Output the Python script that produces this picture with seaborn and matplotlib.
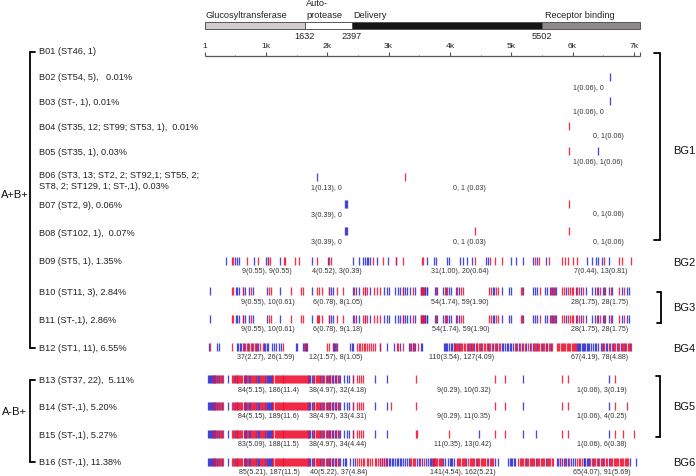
import matplotlib
matplotlib.use("Agg")
import matplotlib.pyplot as plt
import pandas as pd
import seaborn as sns

# Domains of the toxin B protein (residues)
domain_names = ["Glucosyltransferase", "Autoprotease", "Delivery", "Receptor binding"]
domain_start = [1, 1632, 2397, 5502]
domain_end = [1632, 2397, 5502, 7102]
domain_colors = ["#d2cccc", "#ffffff", "#161616", "#8e8a8a"]

ruler_major = [1, 1000, 2000, 3000, 4000, 5000, 6000, 7000]
ruler_major_labels = ["1", "1k", "2k", "3k", "4k", "5k", "6k", "7k"]
ruler_minor = [500, 1500, 2500, 3500, 4500, 5500, 6500, 7102]

row_names = ["B02", "B03", "B04", "B05", "B06", "B07", "B08", "B09",
             "B10", "B11", "B12", "B13", "B14", "B15", "B16"]

# Mutation positions, blue / red per row
b02_blue = [6612]
b03_blue = [6612]
b04_red = [5943]
b05_blue = [6411]
b05_red = [5943]
b06_blue = [1837]
b06_red = [3273]
b07_blue = [2288, 2304, 2320]
b07_red = [5943]
b08_blue = [2288, 2304, 2320]
b08_red = [4409, 5943]

b09_blue = [347, 494, 521, 554, 804, 1006, 1033, 1234, 1745, 2017, 2415, 2523, 2578, 2621, 2643,
            2670, 2698, 2806, 2986, 3116, 3621, 3735, 3773, 3947, 3980, 4165, 4219, 4284, 4355,
            4584, 4627, 4992, 5073, 5188, 5362, 5416, 5568, 6243, 6314, 6384, 6422, 6477, 6602]
b09_red = [451, 467, 685, 870, 1040, 1065, 1294, 1316, 1479, 1533, 1827, 2034, 2056, 2752, 2904,
           3120, 3241, 3552, 3556, 4410, 4654, 4736, 4845, 5389, 5449, 5623, 5835, 5878, 5933,
           6004, 6069, 6515, 6765, 6809, 6961]

b10_blue = [86, 505, 532, 565, 630, 657, 723, 793, 1011, 1234, 1745, 2028, 2061, 2088, 2415, 2469,
            2512, 2616, 2698, 2926, 2980, 3002, 3111, 3149, 3187, 3231, 3269, 3296, 3350, 3432,
            3530, 3600, 3633, 3534, 3560, 3590, 3621, 3751, 3784, 3893, 3936, 3980, 4012, 4100,
            4154, 4698, 4720, 4850, 4959, 5003, 5193, 5362, 5385, 5416, 5552, 5579, 5634, 5660,
            5699, 5732, 5895, 6052, 6145, 6216, 6314, 6368, 6422, 6493, 6537, 6602, 6651, 6803,
            6885, 6923]
b10_red = [451, 467, 630, 750, 1044, 1076, 1414, 1577, 1604, 1838, 1871, 1920, 2028, 2153, 2262,
           2436, 2589, 2616, 2643, 2768, 2806, 2866, 3231, 3394, 3530, 3568, 3545, 3575, 3768,
           3915, 3958, 4121, 4176, 4208, 4638, 4665, 4752, 4785, 5155, 5182, 5470, 5650, 5680,
           5715, 5835, 5868, 5933, 5960, 5987, 6014, 6080, 6112, 6178, 6395, 6450, 6515, 6624,
           6765, 6841]
b11_blue = b10_blue
b11_red = b10_red + [1850]

b12_blue = [70, 195, 233, 525, 545, 570, 595, 645, 705, 770, 840, 875, 960, 985, 1010, 1040, 1095,
            1130, 1165, 1205, 1245, 1484, 1500, 1610, 1630, 1650, 1670, 2088, 2110, 2130, 2165,
            2370, 2400, 2425, 2860, 2970, 3080, 3180, 3340, 3370, 3400, 3430, 3540, 3534, 3900,
            3918, 3935, 3960, 3985, 4010, 4040, 4080, 4150, 4290, 4340, 4400, 4450, 4510, 4620,
            4700, 4770, 4850, 4870, 4895, 4925, 4950, 4975, 5000, 5030, 5080, 5130, 5180, 5240,
            5300, 5350, 5420, 5500, 5590, 5650, 6075, 6090, 6110, 6130, 6150, 6170, 6190, 6210,
            6230, 6255, 6275, 6300, 6330, 6360, 6390, 6420, 6460, 6500, 6540, 6570, 6610, 6660,
            6720, 6790, 6860, 6940]
b12_red = [85, 440, 630, 660, 690, 720, 750, 785, 820, 855, 905, 945, 1280, 1620, 1660, 2000, 2034,
           2100, 2145, 2480, 2510, 2540, 2565, 2600, 2620, 2650, 2680, 2710, 2745, 2770, 2860, 3130,
           3160, 3240, 3355, 3390, 3420, 3485, 4060, 4075, 4095, 4110, 4130, 4165, 4185, 4205, 4225,
           4245, 4275, 4305, 4325, 4360, 4380, 4420, 4435, 4470, 4490, 4530, 4550, 4570, 4600, 4640,
           4660, 4680, 4730, 4750, 4800, 4820, 5060, 5100, 5150, 5200, 5220, 5270, 5320, 5370, 5390,
           5405, 5440, 5460, 5480, 5520, 5540, 5560, 5575, 5610, 5630, 5660, 5745, 5765, 5785, 5805,
           5825, 5845, 5865, 5885, 5905, 5925, 5945, 5965, 5985, 6005, 6025, 6045, 6065, 6480, 6520,
           6590, 6640, 6680, 6700, 6740, 6760, 6810, 6830, 6845, 6880, 6900, 6920, 6955]

# Left blocks shared by the A-B+ rows
bg5_blue = [55, 68, 85, 98, 115, 128, 150, 172, 205, 240, 280, 385, 495, 535, 640, 650, 675, 725,
            745, 835, 870, 880, 985, 1020, 1035, 1050, 1065, 1080, 1095, 1680, 1700, 1725, 1745, 1790,
            1880, 1935, 1995, 2025, 2050, 2075, 2100, 2125, 2150, 2180, 2205]
bg5_red = [140, 160, 190, 225, 255, 270, 300, 445, 462, 478, 510, 528, 545, 560, 578, 595, 612, 660,
           690, 705, 760, 775, 790, 805, 820, 850, 895, 912, 930, 950, 965, 1000, 1105, 1120, 1140,
           1155, 1172, 1190, 1205, 1222, 1240, 1258, 1272, 1285, 1300, 1318, 1333, 1350, 1365, 1383,
           1398, 1415, 1430, 1447, 1463, 1480, 1495, 1513, 1528, 1545, 1560, 1578, 1595, 1610, 1627,
           1643, 1660, 1670, 1690, 1760, 1775, 1810, 1830, 1850, 1865, 1900, 1920, 1950, 1975, 2010,
           2040, 2090, 2140, 2195]

b13_blue = bg5_blue + [2278, 2316, 2360, 2415, 2780, 2969, 5193, 6602]
b13_red = bg5_red + [2415, 2480, 2512, 2556, 2589, 3443, 4736, 4899, 5829, 5933, 6689]
b14_blue = bg5_blue + [2278, 2316, 2360, 2415, 2780, 2969, 5193, 6602]
b14_red = bg5_red + [2415, 2480, 2512, 2556, 2589, 3035, 3443, 4736, 4899, 5829, 5933, 6689, 6890]
b15_blue = bg5_blue + [2278, 2316, 2360, 2415, 2780, 2969, 4475, 5193, 5411, 6602]
b15_red = bg5_red + [2415, 2480, 2520, 2556, 2589, 3443, 3460, 3991, 4736, 4899, 5829, 5933, 6689,
                     6830, 6999]

b16_blue = bg5_blue + [2262, 2290, 2306, 2371, 2415, 2450, 2860, 2890, 2920, 2950, 2975, 3000, 3020,
                       3050, 3075, 3100, 3130, 3155, 3185, 3210, 3235, 3265, 3300, 3330, 3460, 3490,
                       3550, 3610, 3640, 3670, 3690, 3720, 3745, 3895, 3925, 3975, 3995, 4015, 4040,
                       4065, 4255, 4440, 4620, 4740, 4790, 4955, 4975, 4995, 5020, 5045, 5062, 5240,
                       5400, 5560, 5745, 5770, 5800, 5830, 5860, 5900, 5930, 5970, 6010, 6040, 6180,
                       6195, 6210, 6230, 6250, 6270, 6330, 6420, 6500, 6590, 6939, 7037]
b16_red = bg5_red + [2480, 2510, 2545, 2575, 2605, 2640, 2670, 2700, 2735, 2770, 2800, 2830, 2860, 2890,
                     2920, 2950, 3350, 3370, 3390, 3415, 3435, 3520, 3580, 3705, 3735, 3757, 3775,
                     3795, 3815, 3835, 3850, 3866, 4110, 4130, 4150, 4170, 4190, 4210, 4230, 4246,
                     4301, 4320, 4340, 4360, 4380, 4400, 4420, 4460, 4480, 4500, 4520, 4540, 4560,
                     4580, 4600, 4654, 4672, 4690, 4709, 5117, 5140, 5160, 5180, 5200, 5220, 5260,
                     5280, 5300, 5320, 5340, 5360, 5380, 5420, 5440, 5460, 5480, 5500, 5520, 5540,
                     5580, 5600, 5620, 5640, 5660, 5688, 5790, 5880, 5950, 6075, 6100, 6125, 6150,
                     6290, 6310, 6350, 6375, 6400, 6440, 6460, 6480, 6520, 6550, 6570, 6610, 6630,
                     6650, 6670, 6690, 6710, 6730, 6750, 6770, 6790, 6810, 6830, 6850, 6870, 6890,
                     6910]

row_blue = [b02_blue, b03_blue, [], b05_blue, b06_blue, b07_blue, b08_blue, b09_blue, b10_blue,
            b11_blue, b12_blue, b13_blue, b14_blue, b15_blue, b16_blue]
row_red = [[], [], b04_red, b05_red, b06_red, b07_red, b08_red, b09_red, b10_red, b11_red,
           b12_red, b13_red, b14_red, b15_red, b16_red]

left_labels = ["B01 (ST46, 1)", "B02 (ST54, 5),   0.01%", "B03 (ST-, 1), 0.01%",
               "B04 (ST35, 12; ST99; ST53, 1),  0.01%", "B05 (ST35, 1), 0.03%",
               "B06 (ST3, 13; ST2, 2; ST92,1; ST55, 2;\nST8, 2; ST129, 1; ST-,1), 0.03%",
               "B07 (ST2, 9), 0.06%", "B08 (ST102, 1),  0.07%", "B09 (ST5, 1), 1.35%",
               "B10 (ST11, 3), 2.84%", "B11 (ST-,1), 2.86%", "B12 (ST1, 11), 6.55%",
               "B13 (ST37, 22),  5.11%", "B14 (ST-,1), 5.20%", "B15 (ST-,1), 5.27%",
               "B16 (ST-,1), 11.38%"]
left_y = [52, 78, 102.3, 127, 152.7, 181, 205.7, 233.3, 262, 292.7, 320.7, 348.7, 380.7, 407.3,
          435.3, 463]
row_y = [77.7, 102, 126.7, 152, 178.3, 205, 232, 261.7, 292, 320, 348.3, 380.3, 406.7, 435, 463]

# Small counts under the rows: (text, centre x, y)
count_labels = [
    ("1(0.06), 0", 588.7, 88), ("1(0.06), 0", 588.7, 112), ("0, 1(0.06)", 608, 136.7),
    ("1(0.06), 1(0.06)", 598.3, 162.5), ("1(0.13), 0", 326.7, 188.3), ("0, 1 (0.03)", 469.3, 188.3),
    ("3(0.39), 0", 326.7, 215.3), ("0, 1(0.06)", 608.7, 215), ("3(0.39), 0", 326.7, 242.7),
    ("0, 1 (0.03)", 469.3, 242.3), ("0, 1(0.06)", 608.7, 242.3),
    ("9(0.55), 9(0.55)", 266.7, 271.7), ("4(0.52), 3(0.39)", 337.3, 271.7),
    ("31(1.00), 20(0.64)", 460, 271.7), ("7(0.44), 13(0.81)", 601, 271.7),
    ("9(0.55), 10(0.61)", 268.3, 302.3), ("6(0.78), 8(1.05)", 337.3, 302.3),
    ("54(1.74), 59(1.90)", 460, 302.3), ("28(1.75), 28(1.75)", 599.3, 302.3),
    ("9(0.55), 10(0.61)", 268.3, 330), ("6(0.78), 9(1.18)", 337.3, 330),
    ("54(1.74), 59(1.90)", 460.7, 330), ("28(1.75), 28(1.75)", 600, 330),
    ("37(2.27), 26(1.59)", 266, 357.5), ("12(1.57), 8(1.05)", 336, 357.5),
    ("110(3.54), 127(4.09)", 461.7, 357.5), ("67(4.19), 78(4.88)", 599.3, 357.5),
    ("84(5.15), 186(11.4)", 268.3, 390.3), ("38(4.97), 32(4.18)", 338, 390.3),
    ("9(0.29), 10(0.32)", 464, 390.3), ("1(0.06), 3(0.19)", 601.7, 390.3),
    ("84(5.15), 189(11.6)", 268.3, 417), ("38(4.97), 33(4.31)", 338, 417),
    ("9(0.29), 11(0.35)", 464, 417), ("1(0.06), 4(0.25)", 601.7, 417),
    ("83(5.09), 188(11.5)", 268.3, 445), ("38(4.97), 34(4.44)", 338, 445),
    ("11(0.35), 13(0.42)", 462.3, 445), ("1(0.06), 6(0.38)", 601.7, 445),
    ("85(5.21), 187(11.5)", 269.3, 472.3), ("40(5.22), 37(4.84)", 338.3, 472.3),
    ("141(4.54), 162(5.21)", 463, 472.3), ("65(4.07), 91(5.69)", 602, 472.3),
]

# Long table for seaborn
records = []
for name, y, blue, red in zip(row_names, row_y, row_blue, row_red):
    records += [{"row": name, "y": y, "position": p, "kind": "blue"} for p in blue]
    records += [{"row": name, "y": y, "position": p, "kind": "red"} for p in red]
mutations = pd.DataFrame(records)

sns.set_theme(style="white")
plt.rcParams["font.family"] = ["Liberation Sans", "DejaVu Sans"]

WIDTH, HEIGHT = 696, 477
RES_PER_PX = 1 / 0.0613
X0 = 204.7

fig = plt.figure(figsize=(WIDTH / 100, HEIGHT / 100), dpi=100, facecolor="white")

# Marks axis: x in residues, y in picture rows
ax = fig.add_axes([0, 0, 1, 1])

for kind, color in [("blue", "#2a2ad2"), ("red", "#ee1030")]:
    sns.scatterplot(data=mutations[mutations["kind"] == kind], x="position", y="y", ax=ax,
                    color=color, marker="|", s=26, linewidth=0.95, alpha=0.85, legend=False)
# seaborn leaves unfilled markers with a dark edge, so use the point colour for it
for coll in ax.collections:
    coll.set_edgecolor(coll.get_facecolor())

ax.set_xlim(-X0 * RES_PER_PX, (WIDTH - X0) * RES_PER_PX)
ax.set_ylim(HEIGHT, 0)
ax.axis("off")

# Domain bar
for start, end, color in zip(domain_start, domain_end, domain_colors):
    ax.barh(26.3, end - start, left=start, height=6.6, color=color, edgecolor="#555555", linewidth=0.7)

# Ruler
ax.plot([1, 7102], [57.3, 57.3], color="#555555", lw=0.9, solid_capstyle="butt")
ax.vlines(ruler_major, 53.2, 57.3, color="#555555", lw=0.8)
ax.vlines(ruler_minor[:-1], 55.5, 57.3, color="#555555", lw=0.6)
ax.vlines(ruler_minor[-1:], 53.2, 57.3, color="#555555", lw=0.8)
for pos, lab in zip(ruler_major, ruler_major_labels):
    ax.text(pos, 46, lab, ha="center", va="center", fontsize=6.1, color="#222222")
for pos in domain_start[1:]:
    ax.text(pos, 36.7, str(pos), ha="center", va="center", fontsize=6.6, color="#222222")

# Overlay in pixels for the labels and brackets
over = fig.add_axes([0, 0, 1, 1])
over.set_xlim(0, WIDTH)
over.set_ylim(HEIGHT, 0)
over.axis("off")
over.patch.set_alpha(0)

domain_text = [("Glucosyltransferase", 205.7, 16), ("Auto-", 306, 3.5), ("protease", 306, 15.3),
               ("Delivery", 353.3, 16), ("Receptor binding", 545, 16)]
for s, x, y in domain_text:
    over.text(x, y, s, ha="left", va="center", fontsize=6.6, color="#222222")

for s, y in zip(left_labels, left_y):
    over.text(38.7, y, s, ha="left", va="center", fontsize=6.6, color="#222222", linespacing=1.2)

for s, x, y in count_labels:
    over.text(x, y, s, ha="center", va="center", fontsize=5.1, color="#333333")

# Brackets, (x, top, bottom, tick direction)
brackets = [(30, 52.7, 348.7, 5), (30, 380.7, 463, 4.5), (660, 54, 240.7, -6),
            (660.5, 292.7, 324, -4), (660, 376.7, 437.7, -4)]
for x, top, bottom, tick in brackets:
    over.plot([x + tick, x, x, x + tick], [top, top, bottom, bottom], color="black", lw=1.3,
              solid_joinstyle="miter")

big_text = [("A+B+", 14.5, 195), ("A-B+", 14, 412), ("BG1", 684, 150.7), ("BG2", 684, 262.7),
            ("BG3", 684, 308), ("BG4", 684, 348.7), ("BG5", 684, 407), ("BG6", 684, 463)]
for s, x, y in big_text:
    over.text(x, y, s, ha="center", va="center", fontsize=8, color="#111111")

fig.savefig("out.png", dpi=100)
